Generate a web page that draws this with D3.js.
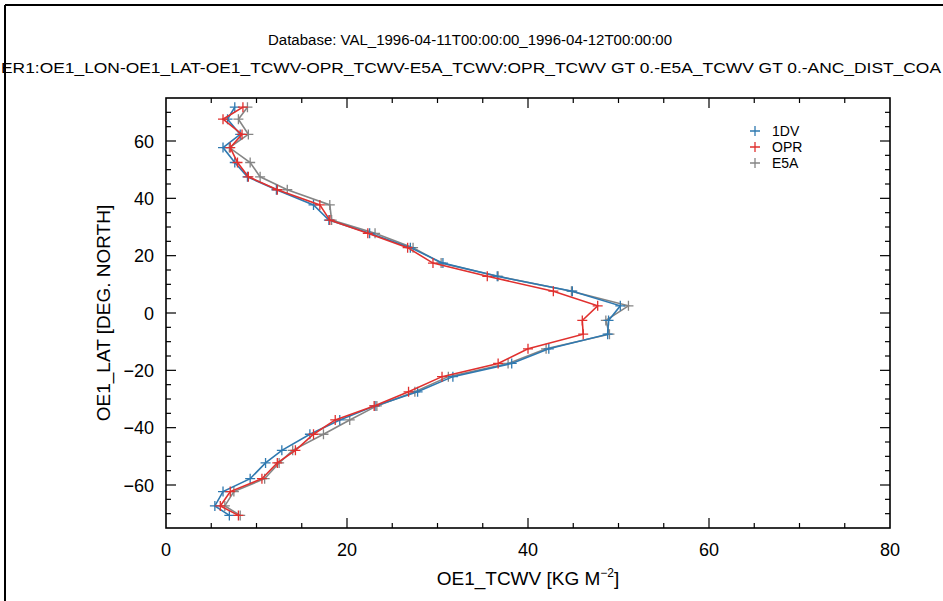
<!DOCTYPE html>
<html>
<head>
<meta charset="utf-8">
<script src="https://cdn.jsdelivr.net/npm/d3@7"></script>
<style>
  body { margin: 0; background: #fff; }
  svg { display: block; font-family: "Liberation Sans", Arial, sans-serif; }
</style>
</head>
<body>
<div id="chart"></div>
<script>
// latitude bins (deg north), shared by all three series
var lats = [71.8, 67.6, 62.3, 57.7, 52.5, 47.5, 43.0, 37.7, 32.4, 27.8, 22.8, 17.4, 12.8, 7.6, 2.5,
            -2.6, -7.4, -12.5, -17.6, -22.2, -27.5, -32.4, -37.3, -42.3, -47.9, -52.3, -57.8, -62.3, -67.3, -70.6];

var tcwv1DV = [7.6, 6.8, 8.2, 6.3, 7.6, 9.0, 12.2, 16.3, 18.0, 22.5, 27.0, 30.6, 36.6, 44.9, 50.2,
               48.9, 48.8, 42.3, 38.2, 31.7, 27.8, 23.1, 19.2, 15.9, 12.8, 11.0, 9.3, 6.3, 5.4, 7.0];
var tcwvOPR = [8.5, 6.3, 8.4, 7.1, 7.9, 9.1, 12.3, 17.0, 18.1, 22.3, 26.7, 29.5, 35.5, 42.8, 47.7,
               46.0, 46.1, 40.0, 36.7, 30.5, 26.8, 23.0, 18.7, 16.3, 14.3, 12.3, 10.6, 7.1, 6.0, 8.0];
var tcwvE5A = [9.0, 8.0, 9.1, 7.0, 9.3, 10.4, 13.4, 18.1, 18.3, 23.1, 27.3, 30.4, 36.7, 44.8, 51.1,
               48.6, 49.0, 42.0, 37.8, 31.2, 27.5, 23.3, 20.3, 17.4, 14.0, 12.5, 10.9, 7.5, 6.5, 8.2];

var seriesNames = ["1DV", "OPR", "E5A"];
var xTicks = [0, 20, 40, 60, 80];
var yTicks = [-60, -40, -20, 0, 20, 40, 60];

var title1 = "Database: VAL_1996-04-11T00:00:00_1996-04-12T00:00:00";
// the original second line runs past both picture edges, so only the visible part is kept
var title2 = "ER1:OE1_LON-OE1_LAT-OE1_TCWV-OPR_TCWV-E5A_TCWV:OPR_TCWV GT 0.-E5A_TCWV GT 0.-ANC_DIST_COA";

var width = 943, height = 601;
var margin = { top: 98, right: 53, bottom: 73, left: 166 };

var svg = d3.select("#chart").append("svg")
    .attr("width", width)
    .attr("height", height);

// outer border (top and left only visible)
svg.append("line").attr("x1", 5).attr("x2", width).attr("y1", 5).attr("y2", 5)
    .attr("stroke", "#000").attr("stroke-width", 2);
svg.append("line").attr("x1", 5).attr("x2", 5).attr("y1", 5).attr("y2", height)
    .attr("stroke", "#000").attr("stroke-width", 2);

svg.append("text")
    .attr("x", 470).attr("y", 45)
    .attr("text-anchor", "middle")
    .attr("font-size", 14)
    .attr("textLength", 404)
    .attr("lengthAdjust", "spacingAndGlyphs")
    .text(title1);

svg.append("text")
    .attr("x", 1).attr("y", 73)
    .attr("font-size", 14)
    .attr("textLength", 940)
    .attr("lengthAdjust", "spacingAndGlyphs")
    .text(title2);

var x = d3.scaleLinear().domain([0, 80]).range([margin.left, width - margin.right]);
var y = d3.scaleLinear().domain([-75, 75]).range([height - margin.bottom, margin.top]);

var g = svg.append("g");

// frame
g.append("rect")
    .attr("x", x(0)).attr("y", y(75))
    .attr("width", x(80) - x(0)).attr("height", y(-75) - y(75))
    .attr("fill", "none").attr("stroke", "#000").attr("stroke-width", 1.6);

// ticks inward on all four sides
var xMinor = d3.range(5, 80, 5);
var yMinor = d3.range(-70, 75, 5);

function isMajor(v, step) { return Math.abs(v % step) < 1e-9; }

xMinor.forEach(function (v) {
    var len = isMajor(v, 20) ? 10 : 5;
    g.append("line").attr("x1", x(v)).attr("x2", x(v)).attr("y1", y(-75)).attr("y2", y(-75) - len)
        .attr("stroke", "#000").attr("stroke-width", 1.2);
    g.append("line").attr("x1", x(v)).attr("x2", x(v)).attr("y1", y(75)).attr("y2", y(75) + len)
        .attr("stroke", "#000").attr("stroke-width", 1.2);
});
yMinor.forEach(function (v) {
    var len = isMajor(v, 20) ? 10 : 5;
    g.append("line").attr("x1", x(0)).attr("x2", x(0) + len).attr("y1", y(v)).attr("y2", y(v))
        .attr("stroke", "#000").attr("stroke-width", 1.2);
    g.append("line").attr("x1", x(80)).attr("x2", x(80) - len).attr("y1", y(v)).attr("y2", y(v))
        .attr("stroke", "#000").attr("stroke-width", 1.2);
});

// tick labels
g.selectAll(".xl").data(xTicks).enter().append("text")
    .attr("x", d => x(d)).attr("y", y(-75) + 28)
    .attr("text-anchor", "middle").attr("font-size", 18)
    .text(d => d);
g.selectAll(".yl").data(yTicks).enter().append("text")
    .attr("x", x(0) - 12).attr("y", d => y(d) + 6.5)
    .attr("text-anchor", "end").attr("font-size", 18)
    .text(d => d < 0 ? "\u2212" + Math.abs(d) : d);

// axis titles
var xt = svg.append("text")
    .attr("x", x(40)).attr("y", 585)
    .attr("text-anchor", "middle").attr("font-size", 19);
xt.append("tspan").text("OE1_TCWV [KG M");
xt.append("tspan").attr("dy", -8).attr("font-size", 12).text("\u22122");
xt.append("tspan").attr("dy", 8).text("]");

svg.append("text")
    .attr("transform", "translate(110," + y(0) + ") rotate(-90)")
    .attr("text-anchor", "middle").attr("font-size", 19)
    .text("OE1_LAT [DEG. NORTH]");

// series
var series = [
    { name: "E5A", values: tcwvE5A, color: "#858585" },
    { name: "1DV", values: tcwv1DV, color: "#2f79b0" },
    { name: "OPR", values: tcwvOPR, color: "#e0302e" }
];

var line = d3.line().x(d => x(d[0])).y(d => y(d[1]));
var ms = 5;

series.forEach(function (s) {
    var pts = s.values.map((v, i) => [v, lats[i]]);
    g.append("path").datum(pts)
        .attr("d", line)
        .attr("fill", "none").attr("stroke", s.color).attr("stroke-width", 1.6);
    g.append("g").selectAll("path").data(pts).enter().append("path")
        .attr("d", d => "M" + (x(d[0]) - ms) + "," + y(d[1]) + "h" + 2 * ms +
                        "M" + x(d[0]) + "," + (y(d[1]) - ms) + "v" + 2 * ms)
        .attr("stroke", s.color).attr("stroke-width", 1.3).attr("fill", "none");
});

// legend
var legendColors = { "1DV": "#2f79b0", "OPR": "#e0302e", "E5A": "#858585" };
var leg = svg.append("g").attr("transform", "translate(755,131)");
seriesNames.forEach(function (n, i) {
    var yy = i * 16;
    leg.append("path")
        .attr("d", "M" + (-ms) + "," + yy + "h" + 2 * ms + "M0," + (yy - ms) + "v" + 2 * ms)
        .attr("stroke", legendColors[n]).attr("stroke-width", 1.3);
    leg.append("text").attr("x", 17).attr("y", yy + 5)
        .attr("font-size", 14).text(n);
});
</script>
</body>
</html>
